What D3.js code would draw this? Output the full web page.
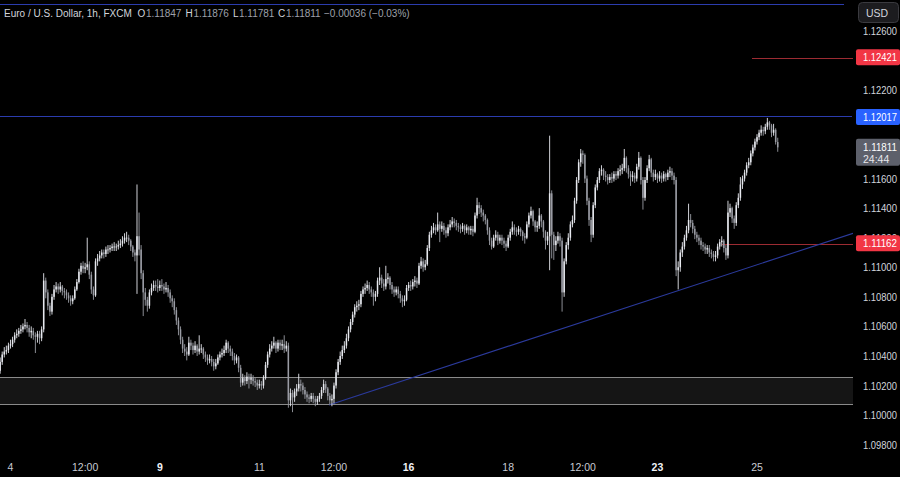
<!DOCTYPE html>
<html><head><meta charset="utf-8">
<script src="https://cdn.jsdelivr.net/npm/d3@7"></script>
<style>html,body{margin:0;padding:0;background:#000;overflow:hidden}</style>
</head><body>
<svg id="c" width="900" height="477"></svg>
<script>
// ---------- DATA ----------
const firstIndex = -5;          // hour index of first candle (0 = Sep 4 00:00, trading hours)
const firstOpen = 1.1030;
const closes = [
1.1036,1.1041,1.1043,1.1044,1.1047,1.1048,1.1051,1.1054,1.1055,1.1057,
1.1058,1.1060,1.1061,1.1059,1.1056,1.1057,1.1054,1.1053,1.1055,1.1052,
1.1058,1.1091,1.1083,1.1074,1.1070,1.1080,1.1085,1.1087,1.1085,1.1087,
1.1084,1.1083,1.1081,1.1079,1.1077,1.1079,1.1085,1.1090,1.1097,1.1101,
1.1099,1.1100,1.1102,1.1095,1.1085,1.1081,1.1104,1.1106,1.1108,1.1110,
1.1109,1.1112,1.1112,1.1113,1.1114,1.1114,1.1114,1.1115,1.1116,1.1118,
1.1120,1.1120,1.1118,1.1114,1.1110,1.1108,1.1121,1.1112,1.1096,1.1083,
1.1078,1.1074,1.1083,1.1086,1.1088,1.1087,1.1086,1.1088,1.1087,1.1085,
1.1086,1.1083,1.1079,1.1077,1.1071,1.1064,1.1058,1.1051,1.1045,1.1043,
1.1041,1.1049,1.1047,1.1044,1.1047,1.1043,1.1045,1.1045,1.1041,1.1039,
1.1037,1.1038,1.1036,1.1033,1.1035,1.1039,1.1041,1.1042,1.1044,1.1049,
1.1045,1.1043,1.1040,1.1037,1.1039,1.1032,1.1022,1.1025,1.1023,1.1026,
1.1024,1.1025,1.1023,1.1022,1.1020,1.1021,1.1020,1.1025,1.1034,1.1041,
1.1045,1.1047,1.1049,1.1045,1.1049,1.1047,1.1048,1.1045,1.1047,1.1010,
1.1015,1.1012,1.1016,1.1018,1.1021,1.1020,1.1017,1.1014,1.1012,1.1011,
1.1013,1.1011,1.1009,1.1011,1.1013,1.1017,1.1021,1.1018,1.1013,1.1010,
1.1011,1.1020,1.1029,1.1036,1.1040,1.1044,1.1047,1.1052,1.1058,1.1063,
1.1068,1.1073,1.1074,1.1075,1.1082,1.1085,1.1086,1.1088,1.1085,1.1083,
1.1080,1.1082,1.1091,1.1093,1.1089,1.1087,1.1092,1.1093,1.1088,1.1085,
1.1083,1.1085,1.1082,1.1079,1.1077,1.1078,1.1086,1.1088,1.1087,1.1090,
1.1091,1.1089,1.1101,1.1104,1.1100,1.1102,1.1113,1.1122,1.1125,1.1127,
1.1125,1.1129,1.1126,1.1128,1.1125,1.1123,1.1127,1.1129,1.1131,1.1130,
1.1128,1.1127,1.1126,1.1128,1.1125,1.1127,1.1125,1.1126,1.1124,1.1135,
1.1142,1.1140,1.1137,1.1135,1.1132,1.1125,1.1118,1.1114,1.1120,1.1122,
1.1118,1.1120,1.1118,1.1116,1.1114,1.1120,1.1124,1.1127,1.1125,1.1124,
1.1126,1.1124,1.1121,1.1120,1.1129,1.1135,1.1138,1.1131,1.1127,1.1128,
1.1135,1.1131,1.1124,1.1118,1.1121,1.1150,1.1122,1.1115,1.1118,1.1121,
1.1118,1.1083,1.1104,1.1115,1.1120,1.1129,1.1132,1.1145,1.1159,1.1171,
1.1177,1.1176,1.1160,1.1145,1.1132,1.1122,1.1142,1.1154,1.1159,1.1165,
1.1166,1.1162,1.1161,1.1159,1.1161,1.1160,1.1163,1.1162,1.1165,1.1166,
1.1167,1.1174,1.1167,1.1163,1.1161,1.1162,1.1160,1.1168,1.1174,1.1159,
1.1147,1.1159,1.1167,1.1173,1.1164,1.1161,1.1163,1.1160,1.1162,1.1160,
1.1163,1.1161,1.1164,1.1165,1.1162,1.1159,1.1098,1.1100,1.1110,1.1114,
1.1120,1.1125,1.1132,1.1130,1.1126,1.1122,1.1120,1.1118,1.1115,1.1114,
1.1112,1.1113,1.1110,1.1109,1.1107,1.1108,1.1114,1.1117,1.1118,1.1113,
1.1108,1.1137,1.1140,1.1133,1.1130,1.1142,1.1147,1.1156,1.1160,1.1164,
1.1169,1.1171,1.1177,1.1181,1.1185,1.1188,1.1191,1.1193,1.1192,1.1195,
1.1198,1.1196,1.1191,1.1193,1.11847,1.11811
];
const highs = [
1.1039,1.1043,1.1046,1.1047,1.1049,1.1051,1.1053,1.1056,1.1058,1.1059,
1.1061,1.1062,1.1065,1.1063,1.1061,1.1060,1.1059,1.1056,1.1057,1.1057,
1.1060,1.1096,1.1093,1.1085,1.1076,1.1082,1.1088,1.1090,1.1089,1.1090,
1.1088,1.1086,1.1085,1.1083,1.1081,1.1081,1.1087,1.1092,1.1099,1.1103,
1.1104,1.1103,1.1120,1.1104,1.1097,1.1087,1.1106,1.1109,1.1111,1.1112,
1.1112,1.1114,1.1115,1.1115,1.1116,1.1117,1.1116,1.1118,1.1119,1.1121,
1.1123,1.1124,1.1122,1.1119,1.1115,1.1112,1.1156,1.1137,1.1115,1.1098,
1.1086,1.1080,1.1085,1.1089,1.1091,1.1091,1.1092,1.1091,1.1092,1.1089,
1.1090,1.1088,1.1085,1.1081,1.1079,1.1073,1.1066,1.1060,1.1053,1.1048,
1.1046,1.1053,1.1051,1.1049,1.1050,1.1048,1.1054,1.1048,1.1046,1.1043,
1.1041,1.1041,1.1040,1.1038,1.1038,1.1041,1.1043,1.1045,1.1047,1.1051,
1.1050,1.1047,1.1045,1.1042,1.1041,1.1040,1.1034,1.1028,1.1027,1.1029,
1.1028,1.1028,1.1027,1.1025,1.1024,1.1024,1.1023,1.1027,1.1036,1.1043,
1.1048,1.1050,1.1053,1.1050,1.1051,1.1051,1.1051,1.1054,1.1050,1.1049,
1.1018,1.1017,1.1018,1.1021,1.1028,1.1024,1.1022,1.1019,1.1016,1.1014,
1.1015,1.1015,1.1013,1.1013,1.1015,1.1019,1.1024,1.1023,1.1019,1.1015,
1.1014,1.1022,1.1031,1.1038,1.1043,1.1047,1.1050,1.1055,1.1060,1.1065,
1.1070,1.1075,1.1077,1.1078,1.1084,1.1087,1.1089,1.1091,1.1090,1.1087,
1.1085,1.1084,1.1093,1.1100,1.1095,1.1092,1.1101,1.1096,1.1094,1.1090,
1.1087,1.1087,1.1087,1.1084,1.1081,1.1081,1.1088,1.1090,1.1091,1.1092,
1.1094,1.1093,1.1103,1.1107,1.1106,1.1105,1.1115,1.1124,1.1128,1.1130,
1.1129,1.1137,1.1131,1.1131,1.1130,1.1127,1.1129,1.1132,1.1134,1.1133,
1.1132,1.1130,1.1129,1.1130,1.1129,1.1129,1.1128,1.1128,1.1128,1.1137,
1.1147,1.1144,1.1142,1.1139,1.1136,1.1133,1.1127,1.1120,1.1122,1.1125,
1.1124,1.1122,1.1122,1.1120,1.1118,1.1122,1.1126,1.1131,1.1129,1.1127,
1.1128,1.1127,1.1125,1.1123,1.1131,1.1137,1.1141,1.1139,1.1132,1.1131,
1.1140,1.1136,1.1132,1.1125,1.1124,1.1189,1.1152,1.1124,1.1121,1.1124,
1.1123,1.1120,1.1106,1.1117,1.1123,1.1131,1.1135,1.1147,1.1161,1.1173,
1.1180,1.1179,1.1177,1.1162,1.1147,1.1134,1.1144,1.1156,1.1161,1.1167,
1.1169,1.1167,1.1165,1.1163,1.1163,1.1164,1.1165,1.1165,1.1167,1.1169,
1.1170,1.1180,1.1175,1.1169,1.1165,1.1165,1.1164,1.1170,1.1178,1.1175,
1.1161,1.1161,1.1169,1.1176,1.1174,1.1166,1.1166,1.1164,1.1165,1.1164,
1.1165,1.1164,1.1166,1.1168,1.1167,1.1164,1.1161,1.1104,1.1112,1.1117,
1.1122,1.1128,1.1143,1.1136,1.1132,1.1128,1.1124,1.1122,1.1120,1.1117,
1.1116,1.1115,1.1115,1.1112,1.1111,1.1111,1.1116,1.1119,1.1121,1.1119,
1.1115,1.1145,1.1143,1.1141,1.1135,1.1144,1.1150,1.1161,1.1162,1.1166,
1.1171,1.1174,1.1179,1.1183,1.1187,1.1190,1.1193,1.1196,1.1195,1.1197,
1.1201,1.1199,1.1197,1.1197,1.1194,1.11876
];
const lows = [
1.1028,1.1034,1.1039,1.1041,1.1042,1.1045,1.1046,1.1049,1.1052,1.1053,
1.1055,1.1056,1.1058,1.1056,1.1053,1.1052,1.1051,1.1042,1.1049,1.1048,
1.1050,1.1056,1.1079,1.1071,1.1067,1.1068,1.1078,1.1083,1.1082,1.1083,
1.1081,1.1079,1.1078,1.1076,1.1074,1.1075,1.1078,1.1084,1.1089,1.1095,
1.1096,1.1096,1.1098,1.1092,1.1082,1.1078,1.1080,1.1101,1.1104,1.1106,
1.1106,1.1107,1.1109,1.1110,1.1111,1.1111,1.1111,1.1112,1.1113,1.1114,
1.1116,1.1117,1.1115,1.1111,1.1107,1.1104,1.1082,1.1108,1.1092,1.1067,
1.1074,1.1070,1.1072,1.1081,1.1084,1.1084,1.1083,1.1084,1.1084,1.1082,
1.1083,1.1080,1.1076,1.1073,1.1068,1.1061,1.1054,1.1048,1.1042,1.1040,
1.1037,1.1040,1.1044,1.1041,1.1042,1.1040,1.1041,1.1042,1.1038,1.1036,
1.1034,1.1035,1.1033,1.1030,1.1031,1.1034,1.1037,1.1039,1.1040,1.1042,
1.1042,1.1040,1.1037,1.1034,1.1035,1.1029,1.1019,1.1020,1.1020,1.1021,
1.1018,1.1021,1.1020,1.1019,1.1017,1.1018,1.1017,1.1018,1.1024,1.1032,
1.1039,1.1043,1.1045,1.1042,1.1043,1.1044,1.1044,1.1042,1.1043,1.1005,
1.1006,1.1002,1.1009,1.1013,1.1016,1.1016,1.1014,1.1011,1.1009,1.1008,
1.1009,1.1008,1.1006,1.1007,1.1009,1.1011,1.1015,1.1015,1.1010,1.1007,
1.1006,1.1008,1.1018,1.1027,1.1034,1.1038,1.1042,1.1045,1.1050,1.1056,
1.1061,1.1066,1.1070,1.1071,1.1073,1.1080,1.1082,1.1084,1.1082,1.1080,
1.1074,1.1077,1.1080,1.1088,1.1086,1.1084,1.1085,1.1089,1.1085,1.1082,
1.1080,1.1081,1.1079,1.1076,1.1073,1.1074,1.1077,1.1084,1.1084,1.1085,
1.1087,1.1086,1.1088,1.1099,1.1097,1.1098,1.1101,1.1111,1.1120,1.1123,
1.1122,1.1124,1.1117,1.1124,1.1122,1.1120,1.1121,1.1125,1.1127,1.1127,
1.1125,1.1124,1.1123,1.1124,1.1122,1.1123,1.1122,1.1122,1.1121,1.1123,
1.1133,1.1136,1.1134,1.1131,1.1129,1.1122,1.1115,1.1112,1.1113,1.1118,
1.1115,1.1116,1.1115,1.1113,1.1111,1.1113,1.1118,1.1122,1.1122,1.1121,
1.1122,1.1121,1.1118,1.1116,1.1119,1.1127,1.1133,1.1128,1.1124,1.1124,
1.1126,1.1127,1.1120,1.1112,1.1115,1.1098,1.1106,1.1105,1.1111,1.1116,
1.1114,1.1070,1.1080,1.1102,1.1112,1.1118,1.1127,1.1130,1.1143,1.1157,
1.1168,1.1170,1.1157,1.1142,1.1128,1.1117,1.1120,1.1140,1.1152,1.1157,
1.1162,1.1159,1.1158,1.1156,1.1157,1.1157,1.1158,1.1159,1.1160,1.1162,
1.1163,1.1165,1.1164,1.1160,1.1155,1.1158,1.1157,1.1158,1.1166,1.1156,
1.1139,1.1145,1.1157,1.1165,1.1161,1.1158,1.1159,1.1157,1.1158,1.1157,
1.1158,1.1158,1.1159,1.1161,1.1159,1.1156,1.1094,1.1085,1.1097,1.1107,
1.1112,1.1118,1.1123,1.1127,1.1123,1.1119,1.1117,1.1115,1.1112,1.1111,
1.1109,1.1109,1.1107,1.1106,1.1104,1.1104,1.1106,1.1112,1.1114,1.1110,
1.1105,1.1106,1.1134,1.1130,1.1126,1.1128,1.1140,1.1145,1.1153,1.1158,
1.1162,1.1167,1.1169,1.1175,1.1179,1.1183,1.1186,1.1189,1.1189,1.1190,
1.1193,1.1193,1.1188,1.1189,1.1183,1.11781
];

const timeTickIdx    = [0, 36, 72, 120, 156, 192, 240, 276, 312, 360];
const timeTickLabels = ["4", "12:00", "9", "11", "12:00", "16", "18", "12:00", "23", "25"];
const timeTickWeek   = [false, false, true, false, false, true, false, false, true, false];

// price-scale labels that are not hidden behind a price tag
const priceTicks = [1.098, 1.100, 1.102, 1.104, 1.106, 1.108, 1.110, 1.112, 1.114, 1.116, 1.122, 1.126];

// horizontal levels: price and starting/ending hour index
const blueLevels      = [1.12783, 1.12017];
const blueLevelStart  = [-5, -5];
const blueLevelEnd    = [402, 406];
const redLevels       = [1.12421, 1.11162];
const redLevelStart   = [357.6, 343];
const labelledBlue    = [1.12017];

// support zone (top, bottom)
const zonePrices = [1.10258, 1.10075];

// trendline anchor points [hourIndex, price]
const trendIdx    = [153.6, 375.9];
const trendPrices = [1.10069, 1.11090];

const headerTitle = "Euro / U.S. Dollar, 1h, FXCM";
const ohlcKeys    = ["O", "H", "L", "C"];
const ohlcValues  = ["1.11847", "1.11876", "1.11781", "1.11811"];
const changeText  = "\u22120.00036 (\u22120.03%)";
const lastPrice = 1.11811;
const countdown = "24:44";

// ---------- DRAW ----------
const W = 900, H = 477, plotRight = 853, plotBottom = 452;
const svg = d3.select("#c");
svg.append("rect").attr("width", W).attr("height", H).attr("fill", "#000");

const x = d3.scaleLinear().domain([0, 360]).range([10.5, 757]);
const y = d3.scaleLinear().domain([1.098, 1.126]).range([444.7, 30.7]);

svg.append("defs").append("clipPath").attr("id", "plotclip")
  .append("rect").attr("x", 0).attr("y", 0).attr("width", plotRight).attr("height", plotBottom);
const plot = svg.append("g").attr("clip-path", "url(#plotclip)");

// 1px horizontal rule snapped to an even pixel row (keeps its colour in the photographed output)
function hRule(g, x1, x2, py, col) {
  g.append("rect").attr("x", x1).attr("y", Math.round(py / 2) * 2).attr("width", Math.max(0, x2 - x1)).attr("height", 1)
    .attr("fill", col).attr("shape-rendering", "crispEdges");
}

// zone
const zTop = Math.round(y(zonePrices[0])), zBot = Math.round(y(zonePrices[1]));
plot.append("rect").attr("x", -2).attr("y", zTop).attr("width", plotRight + 4).attr("height", zBot - zTop)
  .attr("fill", "#151515");
[zTop, zBot].forEach(v => plot.append("rect").attr("x", 0).attr("y", v).attr("width", plotRight).attr("height", 1)
  .attr("fill", "#8a8a8a").attr("shape-rendering", "crispEdges"));

// levels
blueLevels.forEach((p, k) => hRule(plot, Math.max(0, x(blueLevelStart[k])), x(blueLevelEnd[k]), y(p), "#2b3cae"));
redLevels.forEach((p, k) => hRule(plot, x(redLevelStart[k]), plotRight, y(p), "#9c2b32"));

// trendline, extended to the right edge
const iR = x.invert(plotRight);
const slope = (trendPrices[1] - trendPrices[0]) / (trendIdx[1] - trendIdx[0]);
plot.append("line")
  .attr("x1", x(trendIdx[0])).attr("y1", y(trendPrices[0]))
  .attr("x2", plotRight).attr("y2", y(trendPrices[0] + slope * (iR - trendIdx[0])))
  .attr("stroke", "#2b3a9c").attr("stroke-width", 1.1);

// candles
const candles = closes.map((c, k) => ({
  i: firstIndex + k,
  o: k === 0 ? firstOpen : closes[k - 1],
  c: c, h: highs[k], l: lows[k]
}));
const upCol = "#e6e8ee", dnCol = "#9a9ca4";
const cg = plot.append("g");
cg.selectAll("line.w").data(candles).join("line").attr("class", "w")
  .attr("x1", d => x(d.i)).attr("x2", d => x(d.i))
  .attr("y1", d => y(d.h)).attr("y2", d => y(d.l))
  .attr("stroke", d => d.c >= d.o ? upCol : dnCol).attr("stroke-width", 0.9);
cg.selectAll("rect.b").data(candles).join("rect").attr("class", "b")
  .attr("x", d => x(d.i) - 0.75).attr("width", 1.5)
  .attr("y", d => y(Math.max(d.o, d.c)))
  .attr("height", d => Math.max(0.8, Math.abs(y(d.o) - y(d.c))))
  .attr("fill", d => d.c >= d.o ? upCol : dnCol);

// right price axis
const axisFont = "'Liberation Sans', Arial, sans-serif";
const ax = svg.append("g");
ax.selectAll("text").data(priceTicks).join("text")
  .attr("x", 863).attr("y", d => y(d) + 4)
  .attr("fill", "#d1d4dc").attr("font-family", axisFont).attr("font-size", 10.5)
  .attr("textLength", 34).attr("lengthAdjust", "spacingAndGlyphs")
  .text(d => d.toFixed(5));

function priceBox(p, fill) {
  const yy = y(p);
  svg.append("rect").attr("x", 856).attr("y", yy - 8).attr("width", 44).attr("height", 16).attr("rx", 2).attr("fill", fill);
  svg.append("text").attr("x", 863).attr("y", yy + 4).attr("fill", "#ffffff")
    .attr("font-family", axisFont).attr("font-size", 10.5)
    .attr("textLength", 34).attr("lengthAdjust", "spacingAndGlyphs").text(p.toFixed(5));
}
redLevels.forEach(p => priceBox(p, "#f23645"));
labelledBlue.forEach(p => priceBox(p, "#2962ff"));

// last price box with countdown
{
  const yy = y(lastPrice);
  svg.append("rect").attr("x", 856).attr("y", yy - 8.5).attr("width", 44).attr("height", 27).attr("rx", 2).attr("fill", "#5d606b");
  svg.append("text").attr("x", 863).attr("y", yy + 4).attr("fill", "#ffffff")
    .attr("font-family", axisFont).attr("font-size", 10.5)
    .attr("textLength", 34).attr("lengthAdjust", "spacingAndGlyphs").text(lastPrice.toFixed(5));
  svg.append("text").attr("x", 863).attr("y", yy + 15.5).attr("fill", "#e8e8ec")
    .attr("font-family", axisFont).attr("font-size", 10.5).text(countdown);
}

// USD button
svg.append("rect").attr("x", 858.5).attr("y", 2.5).attr("width", 40).attr("height", 20).attr("rx", 4)
  .attr("fill", "#1c1c1f").attr("stroke", "#3a3a3f");
svg.append("text").attr("x", 866).attr("y", 16.5).attr("fill", "#d1d4dc")
  .attr("font-family", axisFont).attr("font-size", 10.5).text("USD");

// time axis
const tx = svg.append("g");
timeTickIdx.forEach((ti, k) => {
  tx.append("text").attr("x", x(ti)).attr("y", 471).attr("text-anchor", "middle")
    .attr("fill", timeTickWeek[k] ? "#f0f2f6" : "#c8cbd3")
    .attr("font-family", axisFont).attr("font-size", 10.5)
    .attr("font-weight", timeTickWeek[k] ? "bold" : "normal")
    .text(timeTickLabels[k]);
});

// header
const hf = "'Liberation Sans', Arial, sans-serif";
const labCol = "#d1d4dc", valCol = "#9ea1aa";
function ht(str, xs, col) {
  svg.append("text").attr("x", xs).attr("y", 16.5).attr("fill", col)
    .attr("font-family", hf).attr("font-size", 10).text(str);
}
ht(headerTitle, 4, labCol);
const keyX = [137.5, 185.5, 233, 278];
const valX = [146, 193.5, 239, 286];
ohlcKeys.forEach((k, n) => { ht(k, keyX[n], labCol); ht(ohlcValues[n], valX[n], valCol); });
ht(changeText, 324, valCol);
</script>
</body></html>
